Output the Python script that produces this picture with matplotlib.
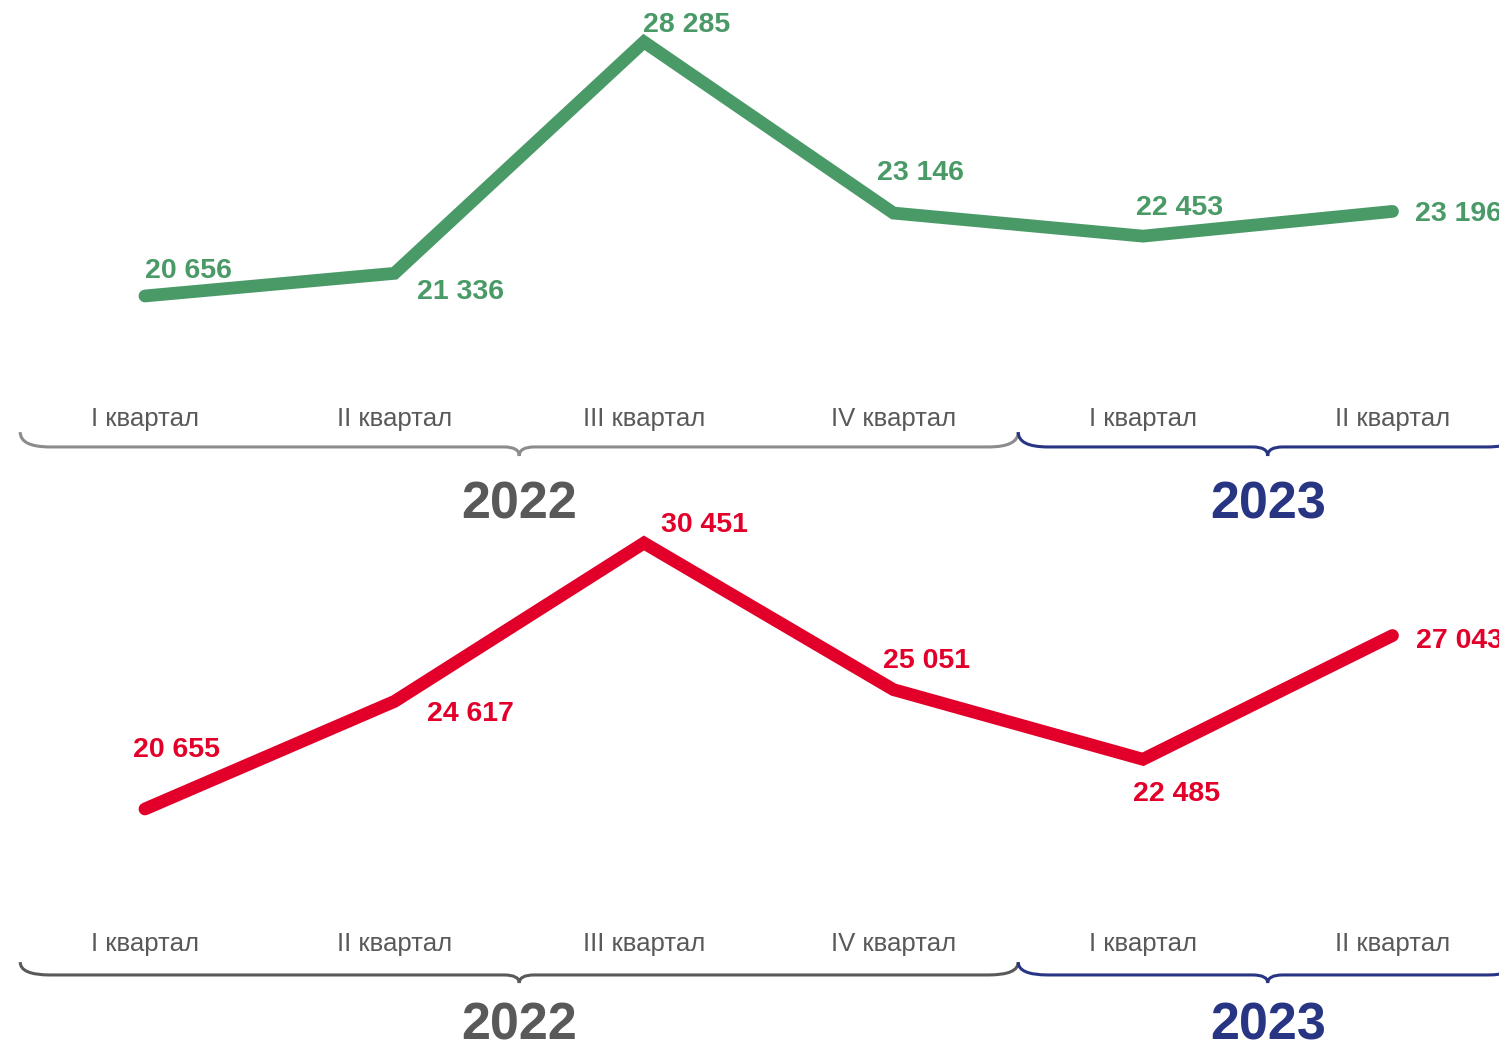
import matplotlib
matplotlib.use("Agg")
from matplotlib import pyplot as plt
from matplotlib.path import Path
from matplotlib.patches import PathPatch
import matplotlib.transforms as mtransforms

plt.rcParams["font.family"] = ["Liberation Sans", "DejaVu Sans"]

# data
quarters = ["I квартал", "II квартал", "III квартал", "IV квартал", "I квартал", "II квартал"]
years = ["2022", "2023"]
top_values = [20656, 21336, 28285, 23146, 22453, 23196]
bottom_values = [20655, 24617, 30451, 25051, 22485, 27043]

# label offsets in pixels (left edge, vertical centre) relative to points
top_offsets = [(0, 25), (23, -19), (-1, 17), (-16, 40), (-7, 28), (23, -3)]
bottom_offsets = [(-12, 59), (33, -13), (17, 18), (-10, 29), (-10, -35), (24, -5)]

GREEN = "#4A9A68"
RED = "#E2002A"
NAVY = "#283583"
GRAY_TEXT = "#595959"


def fmt(v):
    return f"{v:,}".replace(",", " ")


def brace(ax, x0, x1, y_line, y_end, y_tip, color, r=0.12, rm=0.06):
    xm = (x0 + x1) / 2
    verts = [(x0, y_end), (x0, y_line), (x0 + r, y_line),
             (xm - rm, y_line), (xm, y_line), (xm, y_tip),
             (xm, y_line), (xm + rm, y_line),
             (x1 - r, y_line), (x1, y_line), (x1, y_end)]
    codes = [Path.MOVETO, Path.CURVE3, Path.CURVE3,
             Path.LINETO, Path.CURVE3, Path.CURVE3,
             Path.CURVE3, Path.CURVE3,
             Path.LINETO, Path.CURVE3, Path.CURVE3]
    trans = mtransforms.blended_transform_factory(ax.transData, ax.transAxes)
    patch = PathPatch(Path(verts, codes), facecolor="none", edgecolor=color,
                      linewidth=2.2, transform=trans, clip_on=False)
    ax.add_patch(patch)


def panel(ax, values, offsets, color, ylim, cat_y, brace_y, year_y, gray_brace):
    x = list(range(len(values)))
    ax.plot(x, values, color=color, linewidth=9.2, solid_capstyle="round",
            solid_joinstyle="miter")
    ax.set_xlim(-0.581, 5.427)
    ax.set_ylim(*ylim)
    ax.axis("off")
    for xi, v, (dx, dy) in zip(x, values, offsets):
        ax.annotate(fmt(v), (xi, v), xytext=(dx, dy), textcoords="offset pixels",
                    ha="left", va="center", fontsize=20.5, fontweight="bold",
                    color=color, annotation_clip=False)
    trans = mtransforms.blended_transform_factory(ax.transData, ax.transAxes)
    for xi, q in zip(x, quarters):
        ax.text(xi, cat_y, q, transform=trans, ha="center", va="center",
                fontsize=18.5, color=GRAY_TEXT)
    y_line, y_end, y_tip = brace_y
    brace(ax, -0.5, 3.5, y_line, y_end, y_tip, gray_brace)
    brace(ax, 3.5, 5.5, y_line, y_end, y_tip, NAVY)
    ax.text(1.5, year_y, years[0], transform=trans, ha="center", va="center",
            fontsize=37.5, fontweight="bold", color=GRAY_TEXT)
    ax.text(4.5, year_y, years[1], transform=trans, ha="center", va="center",
            fontsize=37.5, fontweight="bold", color=NAVY)


fig = plt.figure(figsize=(14.99, 10.42), dpi=100)
ax_top = fig.add_axes([0, 0.501, 1, 0.499])
ax_bot = fig.add_axes([0, 0, 1, 0.501])

panel(ax_top, top_values, top_offsets, GREEN, (13929, 29545),
      0.194, (0.1404, 0.169, 0.123), 0.029, "#8C8C8C")
panel(ax_bot, bottom_values, bottom_offsets, RED, (12073, 31300),
      0.188, (0.1284, 0.153, 0.113), 0.031, "#595959")

fig.savefig("out.png", dpi=100)
